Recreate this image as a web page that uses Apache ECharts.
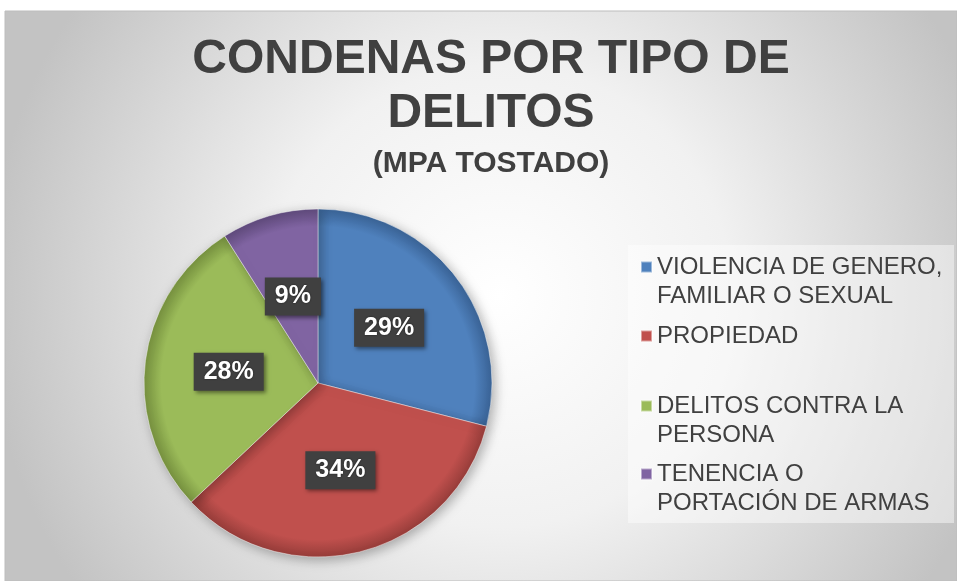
<!DOCTYPE html>
<html>
<head>
<meta charset="utf-8">
<script src="https://cdn.jsdelivr.net/npm/echarts@6/dist/echarts.min.js"></script>
<style>
  html, body { margin: 0; padding: 0; background: #fff; }
  #main { width: 957px; height: 581px; }
</style>
</head>
<body>
<div id="main"></div>
<script>
// datos del grafico
var categorias = ['VIOLENCIA DE GENERO, FAMILIAR O SEXUAL', 'PROPIEDAD', 'DELITOS CONTRA LA PERSONA', 'TENENCIA O PORTACIÓN DE ARMAS'];
var etiquetasLeyenda = ['VIOLENCIA DE GENERO,\nFAMILIAR O SEXUAL', 'PROPIEDAD', 'DELITOS CONTRA LA\nPERSONA', 'TENENCIA O\nPORTACIÓN DE ARMAS'];
var porcentajes = [29, 34, 28, 9];
var colores = ['#4f81bd', '#c0504d', '#9bbb59', '#8064a2'];
var bordes = ['#3a6396', '#973d3a', '#76913f', '#5f4a7c'];

var cx = 318, cy = 383, radio = 174;
var fuente = '"Liberation Sans", Arial, sans-serif';

function init() {
    var myChart = echarts.init(document.getElementById('main'));

    var datos = porcentajes.map(function (v, i) {
        return {
            value: v,
            name: categorias[i],
            itemStyle: {
                color: {
                    type: 'radial', x: cx, y: cy, r: radio, global: true,
                    colorStops: [
                        {offset: 0, color: colores[i]},
                        {offset: 0.9, color: colores[i]},
                        {offset: 1, color: bordes[i]}
                    ]
                }
            }
        };
    });

    // una leyenda por elemento, el espaciado del original no es uniforme
    // el icono va en la primera linea: se agrega una linea vacia arriba
    var centrosLeyenda = [267, 336, 406, 474];
    var leyendas = categorias.map(function (nombre, i) {
        var dosLineas = etiquetasLeyenda[i].indexOf('\n') >= 0;
        var texto = dosLineas ? ' \n' + etiquetasLeyenda[i] : etiquetasLeyenda[i];
        return {
            data: [{name: nombre, itemStyle: {color: colores[i]}}],
            left: 640,
            top: dosLineas ? centrosLeyenda[i] - 43.5 : centrosLeyenda[i] - 14.5,
            padding: 0,
            icon: 'rect',
            itemWidth: 11,
            itemHeight: 11,
            selectedMode: false,
            formatter: function () { return texto; },
            textStyle: {
                fontFamily: fuente,
                fontSize: 24,
                lineHeight: 29,
                color: '#404040'
            }
        };
    });

    var option = {
        animation: false,
        graphic: [
            {
                type: 'rect',
                z: -10,
                shape: {x: 5, y: 11, width: 952, height: 570},
                style: {
                    fill: {
                        type: 'radial', x: 0.52, y: 0.5, r: 0.9,
                        colorStops: [
                            {offset: 0, color: '#ffffff'},
                            {offset: 0.45, color: '#f1f1f1'},
                            {offset: 1, color: '#c3c3c3'}
                        ]
                    },
                    stroke: '#bdbdbd',
                    lineWidth: 1
                }
            },
            {
                type: 'rect',
                z: -5,
                shape: {x: 628, y: 245, width: 326, height: 278},
                style: {fill: 'rgba(255,255,255,0.45)'}
            }
        ],
        title: {
            text: 'CONDENAS POR TIPO DE\nDELITOS',
            subtext: '(MPA TOSTADO)',
            left: 486,
            top: 28,
            textAlign: 'center',
            itemGap: 6,
            textStyle: {
                fontFamily: fuente,
                fontSize: 48,
                fontWeight: 'bold',
                lineHeight: 54,
                color: '#404040'
            },
            subtextStyle: {
                fontFamily: fuente,
                fontSize: 30,
                fontWeight: 'bold',
                lineHeight: 33,
                color: '#404040'
            }
        },
        legend: leyendas,
        series: [
            {
                name: 'Condenas',
                type: 'pie',
                center: [cx, cy],
                radius: [0, radio],
                startAngle: 90,
                clockwise: true,
                itemStyle: {
                    borderColor: 'rgba(255,255,255,0.45)',
                    borderWidth: 1,
                    shadowBlur: 12,
                    shadowOffsetX: 3,
                    shadowOffsetY: 3,
                    shadowColor: 'rgba(0,0,0,0.3)'
                },
                label: {
                    show: true,
                    position: 'inside',
                    formatter: '{c}%',
                    fontFamily: fuente,
                    fontSize: 25,
                    fontWeight: 'bold',
                    lineHeight: 29,
                    color: '#ffffff',
                    backgroundColor: '#404040',
                    padding: [5, 10, 4, 10],
                    shadowBlur: 4,
                    shadowOffsetX: 2,
                    shadowOffsetY: 2,
                    shadowColor: 'rgba(0,0,0,0.45)',
                    textShadowBlur: 2,
                    textShadowColor: 'rgba(0,0,0,0.6)'
                },
                labelLine: {show: false},
                emphasis: {scale: false},
                data: datos
            }
        ]
    };
    myChart.setOption(option);
}

init();
</script>
</body>
</html>
